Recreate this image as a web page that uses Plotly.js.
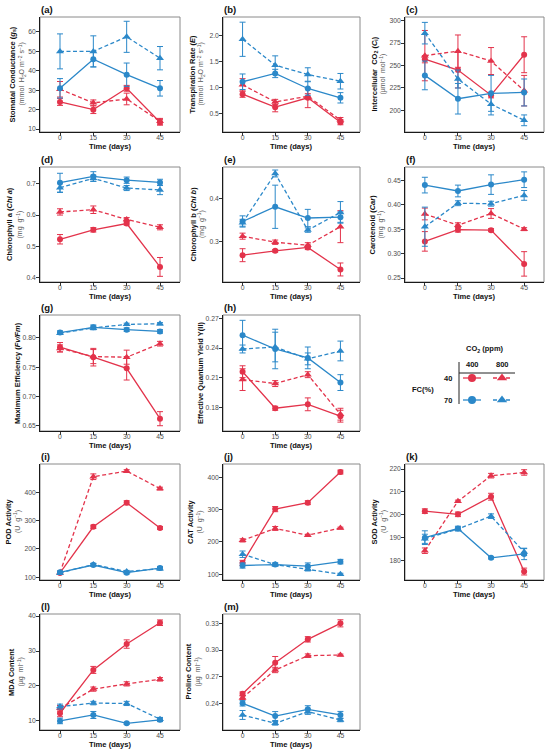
<!DOCTYPE html>
<html><head><meta charset="utf-8">
<script src="https://cdn.plot.ly/plotly-3.0.1.min.js"></script>
<style>html,body{margin:0;padding:0;background:#fff}</style>
</head><body><div id="chart" style="width:550px;height:751px"></div>
<script>
// ---------- data ----------
const days = [0, 15, 30, 45];
const groups = ['40% FC, 400 ppm', '40% FC, 800 ppm', '70% FC, 400 ppm', '70% FC, 800 ppm'];
const fcLevels = ['40', '70'];
const co2Levels = ['400', '800'];

// series order: [40/400, 40/800, 70/400, 70/800]
const gs_mean = [[24,20,31,13.5],[30.5,23.5,25.5,14],[31,46,38,31],[50,50,57.5,46.5]];
const gs_err  = [[1.8,2,1.5,1.5],[4,1.5,3,1.5],[5,4,6,4],[9,8,8,6]];
const gs_ticks = ['10','20','30','40','50','60'];

const E_mean = [[0.87,0.62,0.8,0.33],[1.05,0.72,0.83,0.37],[1.11,1.27,0.98,0.8],[1.93,1.43,1.25,1.12]];
const E_err  = [[0.06,0.09,0.19,0.05],[0.12,0.05,0.05,0.05],[0.15,0.08,0.13,0.1],[0.33,0.18,0.13,0.15]];
const E_ticks = ['0.5','1.0','1.5','2.0'];

const Ci_mean = [[257,245,217,262],[261,266,255,222],[239,213,219,220],[286,235,207,189]];
const Ci_err  = [[4,20,3,20],[28,18,15,17],[16,17,20,15],[12,10,12,6]];
const Ci_ticks = ['200','225','250','275','300'];

const ChlA_mean = [[0.523,0.553,0.573,0.435],[0.610,0.617,0.586,0.561],[0.703,0.723,0.711,0.704],[0.687,0.717,0.686,0.680]];
const ChlA_err  = [[0.015,0.007,0.005,0.03],[0.01,0.012,0.006,0.008],[0.03,0.015,0.01,0.01],[0.015,0.01,0.008,0.015]];
const ChlA_ticks = ['0.4','0.5','0.6','0.7'];

const ChlB_mean = [[0.269,0.279,0.287,0.236],[0.313,0.299,0.292,0.335],[0.347,0.381,0.355,0.357],[0.344,0.458,0.327,0.368]];
const ChlB_err  = [[0.015,0.003,0.005,0.015],[0.007,0.005,0.006,0.037],[0.013,0.05,0.02,0.012],[0.008,0.008,0.005,0.025]];
const ChlB_ticks = ['0.3','0.4'];

const Car_mean = [[0.325,0.349,0.348,0.279],[0.381,0.358,0.382,0.350],[0.440,0.428,0.441,0.451],[0.355,0.403,0.402,0.419]];
const Car_err  = [[0.02,0.005,0.003,0.025],[0.012,0.005,0.01,0.003],[0.016,0.012,0.02,0.016],[0.04,0.005,0.005,0.01]];
const Car_ticks = ['0.25','0.30','0.35','0.40','0.45'];

const FvFm_mean = [[0.784,0.767,0.748,0.662],[0.782,0.768,0.767,0.790],[0.809,0.818,0.814,0.811],[0.808,0.817,0.823,0.824]];
const FvFm_err  = [[0.008,0.015,0.02,0.012],[0.006,0.012,0.012,0.004],[0.003,0.004,0.003,0.003],[0.002,0.003,0.002,0.002]];
const FvFm_ticks = ['0.65','0.70','0.75','0.80'];

const YII_mean = [[0.216,0.179,0.183,0.171],[0.208,0.204,0.213,0.173],[0.253,0.239,0.230,0.205],[0.239,0.241,0.229,0.237]];
const YII_err  = [[0.006,0.002,0.0065,0.006],[0.011,0.003,0.003,0.006],[0.015,0.02,0.011,0.008],[0.004,0.015,0.006,0.01]];
const YII_ticks = ['0.18','0.21','0.24','0.27'];

const POD_mean = [[115,278,363,274],[116,455,475,413],[117,143,116,132],[115,145,120,130]];
const POD_err  = [[5,6,7,5],[5,10,5,5],[5,5,5,6],[4,4,4,4]];
const POD_ticks = ['100','200','300','400'];

const CAT_mean = [[135,302,322,417],[205,242,221,243],[127,130,125,139],[162,130,115,100]];
const CAT_err  = [[8,8,6,6],[5,6,3,3],[8,5,10,7],[10,4,5,3]];
const CAT_ticks = ['100','200','300','400'];

const SOD_mean = [[201.6,200.2,207.9,175.2],[184.3,205.9,217.1,218.5],[190.0,194.0,181.2,182.9],[189.5,193.8,199.4,183.7]];
const SOD_err  = [[1,1,1.5,1.5],[1.2,0.5,1,1.2],[3,1,0.5,2.5],[2,0.8,1,1.5]];
const SOD_ticks = ['180','190','200','210','220'];

const MDA_mean = [[12.2,24.6,32,38.1],[13.6,19.1,20.6,21.9],[10,11.7,9.3,10.3],[14.1,15.1,15.0,10.5]];
const MDA_err  = [[1,1,1.2,0.8],[0.8,0.6,0.6,0.5],[0.8,1,0.3,0.5],[0.7,0.5,0.6,0.5]];
const MDA_ticks = ['10','20','30','40'];

const Pro_mean = [[0.2508,0.2857,0.312,0.330],[0.2463,0.2775,0.2936,0.2944],[0.240,0.2257,0.2333,0.2269],[0.2269,0.2175,0.2306,0.2213]];
const Pro_err  = [[0.002,0.007,0.003,0.004],[0.002,0.003,0.002,0.001],[0.003,0.005,0.004,0.004],[0.005,0.002,0.003,0.002]];
const Pro_ticks = ['0.24','0.27','0.30','0.33'];

// ---------- styling / layout ----------
const W = 550, H = 751;
const RED = '#E3334B', BLUE = '#2B88C9';
const colors = [RED, RED, BLUE, BLUE];
const symbols = ['circle', 'triangle-up', 'circle', 'triangle-up'];
const msizes = [6, 7, 6, 7];
const dashes = ['solid', '4px,2.5px', 'solid', '4px,2.5px'];
const FONT = 'Liberation Sans, Arial, sans-serif';

const cols = [[40,180],[223,360],[405,544]];
const rows = [[17,132],[167,282],[315,431],[464,580],[614,730]];

const unitFlux = '(mmol  H<sub>2</sub>O m<sup>−2</sup> s<sup>−1</sup>)';
const unitMg = '(mg  g<sup>−1</sup>)';
const unitU = '(U  g<sup>−1</sup>)';
const unitUg = '(µg  ml<sup>−1</sup>)';

const panels = [
  {lab:'(a)', r:0, c:0, m:gs_mean, e:gs_err, yr:[8.5,67.7], tk:gs_ticks, t1:'Stomatal Conductance (<i>g</i><sub>s</sub>)', t2:unitFlux, tx:[13,22]},
  {lab:'(b)', r:0, c:1, m:E_mean, e:E_err, yr:[0.14,2.36], tk:E_ticks, t1:'Transpiration Rate (<i>E</i>)', t2:unitFlux, tx:[192,201]},
  {lab:'(c)', r:0, c:2, m:Ci_mean, e:Ci_err, yr:[176,304], tk:Ci_ticks, t1:'Intercellular  CO<sub>2</sub> (<i>C</i><sub>i</sub>)', t2:'(µmol  mol<sup>−1</sup>)', tx:[375,383]},
  {lab:'(d)', r:1, c:0, m:ChlA_mean, e:ChlA_err, yr:[0.387,0.753], tk:ChlA_ticks, t1:'Chlorophyll a (<i>Chl a</i>)', t2:unitMg, tx:[9.5,20]},
  {lab:'(e)', r:1, c:1, m:ChlB_mean, e:ChlB_err, yr:[0.207,0.473], tk:ChlB_ticks, t1:'Chlorophyll b (<i>Chl b</i>)', t2:unitMg, tx:[193,201.5]},
  {lab:'(f)', r:1, c:2, m:Car_mean, e:Car_err, yr:[0.242,0.477], tk:Car_ticks, t1:'Carotenoid (<i>Car</i>)', t2:unitMg, tx:[372,381]},
  {lab:'(g)', r:2, c:0, m:FvFm_mean, e:FvFm_err, yr:[0.641,0.839], tk:FvFm_ticks, t1:'Maximum Efficiency (<i>Fv/Fm</i>)', t2:null, tx:[17]},
  {lab:'(h)', r:2, c:1, m:YII_mean, e:YII_err, yr:[0.156,0.2734], tk:YII_ticks, t1:'Effective Quantum Yield Y(II)', t2:null, tx:[200]},
  {lab:'(i)', r:3, c:0, m:POD_mean, e:POD_err, yr:[90,500], tk:POD_ticks, t1:'POD Activity', t2:unitU, tx:[7.5,17]},
  {lab:'(j)', r:3, c:1, m:CAT_mean, e:CAT_err, yr:[82,442], tk:CAT_ticks, t1:'CAT Activity', t2:unitU, tx:[190,199.5]},
  {lab:'(k)', r:3, c:2, m:SOD_mean, e:SOD_err, yr:[171.5,222.2], tk:SOD_ticks, t1:'SOD Activity', t2:unitU, tx:[373.5,383]},
  {lab:'(l)', r:4, c:0, m:MDA_mean, e:MDA_err, yr:[7.4,40.6], tk:MDA_ticks, t1:'MDA Content', t2:unitUg, tx:[11,20.5]},
  {lab:'(m)', r:4, c:1, m:Pro_mean, e:Pro_err, yr:[0.21,0.3405], tk:Pro_ticks, t1:'Proline Content', t2:unitUg, tx:[187.5,197.5]}
];

const traces = [];
const layout = {
  width: W, height: H,
  margin: {l:0, r:0, t:0, b:0},
  paper_bgcolor: '#fff', plot_bgcolor: 'rgba(0,0,0,0)',
  font: {family: FONT, size: 7, color: '#4d4d4d'},
  showlegend: false,
  shapes: [], annotations: []
};

panels.forEach((p, k) => {
  const i = k + 1;
  const [x0, x1] = cols[p.c];
  const [y0, y1] = rows[p.r];
  const axStyle = {
    showgrid: false, zeroline: false, showline: true, linecolor: '#1a1a1a', linewidth: 1.3,
    ticks: 'outside', ticklen: 2.5, tickwidth: 1, tickcolor: '#333',
    tickfont: {family: FONT, size: 6.8, color: '#4d4d4d'}, fixedrange: true
  };
  layout['xaxis' + i] = Object.assign({}, axStyle, {
    domain: [x0 / W, x1 / W], anchor: 'y' + i, range: [-9, 54],
    tickvals: days, ticktext: days.map(String), ticklabelstandoff: -4
  });
  layout['yaxis' + i] = Object.assign({}, axStyle, {
    domain: [1 - y1 / H, 1 - y0 / H], anchor: 'x' + i, range: p.yr,
    tickvals: p.tk.map(Number), ticktext: p.tk, ticklabelstandoff: -1
  });
  layout.shapes.push({type:'rect', xref:'paper', yref:'paper', x0:x0/W, x1:x1/W, y0:1-y1/H, y1:1-y0/H,
    line:{color:'#8a8a8a', width:1}, fillcolor:'rgba(0,0,0,0)', layer:'below'});
  // panel label
  layout.annotations.push({xref:'paper', yref:'paper', x:(x0-1)/W, y:1-(y0-8)/H, xanchor:'left', yanchor:'middle',
    showarrow:false, text:'<b>' + p.lab + '</b>', font:{family:FONT, size:9.5, color:'#111'}});
  // x title
  layout.annotations.push({xref:'paper', yref:'paper', x:(x0+x1)/2/W, y:1-(y1+14)/H, xanchor:'center', yanchor:'middle',
    showarrow:false, text:'<b>Time (days)</b>', font:{family:FONT, size:7.6, color:'#111'}});
  // y title (two separate lines)
  const yc = 1 - ((y0 + y1) / 2) / H;
  layout.annotations.push({xref:'paper', yref:'paper', x:p.tx[0]/W, y:yc, xanchor:'center', yanchor:'middle',
    textangle:-90, showarrow:false, text:'<b>' + p.t1 + '</b>', font:{family:FONT, size:7.5, color:'#111'}});
  if (p.t2) layout.annotations.push({xref:'paper', yref:'paper', x:p.tx[1]/W, y:yc, xanchor:'center', yanchor:'middle',
    textangle:-90, showarrow:false, text:p.t2, font:{family:FONT, size:7, color:'#555'}});

  for (let s = 0; s < 4; s++) {
    traces.push({
      type:'scatter', mode:'lines+markers', name: groups[s],
      x: days, y: p.m[s],
      xaxis:'x' + i, yaxis:'y' + i,
      line:{color:colors[s], width:1.3, dash:dashes[s]},
      marker:{symbol:symbols[s], size:msizes[s], color:colors[s]},
      error_y:{type:'data', array:p.e[s], visible:true, color:colors[s], thickness:1, width:3},
      hoverinfo:'skip'
    });
  }
});

// ---------- custom legend (pixel-mapped overlay axis) ----------
const L = panels.length + 1;
layout['xaxis' + L] = {domain:[0,1], range:[0,W], visible:false, fixedrange:true, anchor:'y' + L};
layout['yaxis' + L] = {domain:[0,1], range:[H,0], visible:false, fixedrange:true, anchor:'x' + L};
const keyX = [472, 502], keyY = [378, 400];
for (let s = 0; s < 4; s++) {
  const fc = Math.floor(s / 2), co = s % 2;
  const cx = keyX[co], cy = keyY[fc];
  traces.push({type:'scatter', mode:'lines', x:[cx-9, cx+9], y:[cy, cy], xaxis:'x'+L, yaxis:'y'+L,
    line:{color:colors[s], width:1.3, dash:dashes[s]}, hoverinfo:'skip'});
  traces.push({type:'scatter', mode:'markers', x:[cx], y:[cy], xaxis:'x'+L, yaxis:'y'+L,
    marker:{symbol:symbols[s], size:msizes[s]+2, color:colors[s]}, hoverinfo:'skip'});
}
const legTxt = (x, y, t) => layout.annotations.push({xref:'paper', yref:'paper', x:x/W, y:1-y/H,
  xanchor:'center', yanchor:'middle', showarrow:false, text:'<b>' + t + '</b>', font:{family:FONT, size:7.5, color:'#111'}});
legTxt(485, 349, 'CO<sub>2</sub> (ppm)');
legTxt(keyX[0], 365, co2Levels[0]);
legTxt(keyX[1], 365, co2Levels[1]);
legTxt(448, keyY[0], fcLevels[0]);
legTxt(448, keyY[1], fcLevels[1]);
legTxt(423, 389, 'FC(%)');
layout.shapes.push({type:'line', xref:'paper', yref:'paper', x0:459/W, x1:515/W, y0:1-373/H, y1:1-373/H, line:{color:'#222', width:1}});
layout.shapes.push({type:'line', xref:'paper', yref:'paper', x0:459/W, x1:459/W, y0:1-362/H, y1:1-404/H, line:{color:'#222', width:1}});

Plotly.newPlot('chart', traces, layout, {staticPlot:true, displayModeBar:false});
</script></body></html>
